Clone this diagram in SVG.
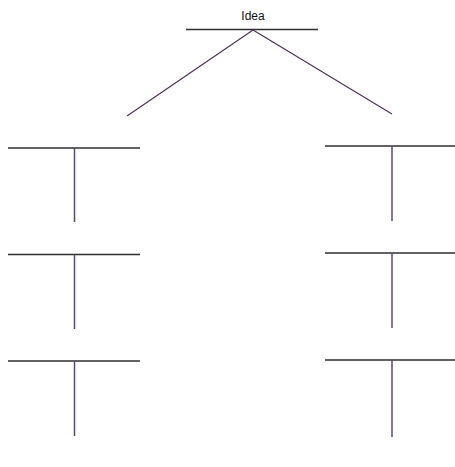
<svg xmlns="http://www.w3.org/2000/svg" width="455" height="467" viewBox="0 0 455 467">
<style>
.h{stroke:#2e2e2e;stroke-width:1.5;fill:none}
.v{stroke:#5b4868;stroke-width:1.5;fill:none}
.d{stroke:#4a3450;stroke-width:1.2;fill:none}
.t{font-family:"Liberation Sans",Arial,sans-serif;font-size:12px;fill:#111}
</style>
<rect width="455" height="467" fill="#fff"/>
<g id="idea">
<text class="t" x="253" y="20" text-anchor="middle">Idea</text>
<line class="h" x1="186" y1="29.5" x2="318" y2="29.5"/>
</g>
<g id="left1"><line class="h" x1="8" y1="148" x2="140" y2="148"/><line class="v" x1="74.5" y1="148" x2="74.5" y2="222"/></g>
<g id="left2"><line class="h" x1="8" y1="254.5" x2="140" y2="254.5"/><line class="v" x1="74.5" y1="254.5" x2="74.5" y2="329"/></g>
<g id="left3"><line class="h" x1="8" y1="361" x2="140" y2="361"/><line class="v" x1="74.5" y1="361" x2="74.5" y2="436"/></g>
<g id="right1"><line class="h" x1="325" y1="146" x2="455" y2="146"/><line class="v" x1="392" y1="146" x2="392" y2="221"/></g>
<g id="right2"><line class="h" x1="325" y1="253" x2="455" y2="253"/><line class="v" x1="392" y1="253" x2="392" y2="328"/></g>
<g id="right3"><line class="h" x1="325" y1="360" x2="455" y2="360"/><line class="v" x1="392" y1="360" x2="392" y2="437"/></g>
<g id="connectors">
<line class="d" x1="253" y1="30" x2="127" y2="116"/>
<line class="d" x1="253" y1="30" x2="392" y2="114"/>
</g>
</svg>
